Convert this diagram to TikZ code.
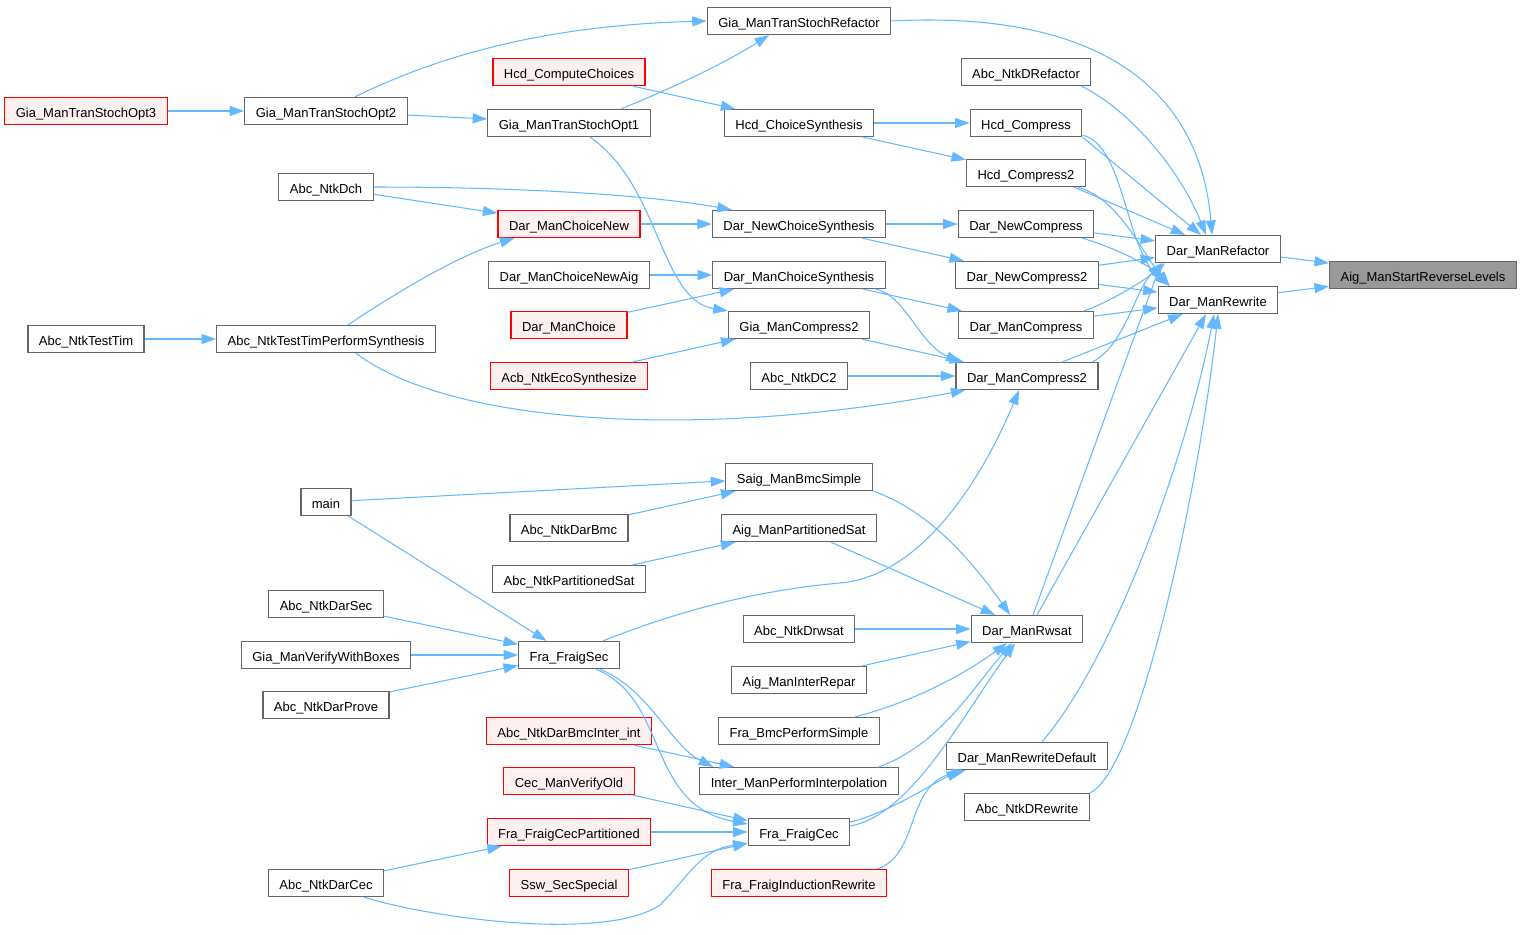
\documentclass[tikz,border=0pt]{standalone}
\usepackage{fontspec}
\setmainfont{Liberation Sans}
\usetikzlibrary{arrows.meta,calc}
\definecolor{callblue}{HTML}{63B8FF}
\definecolor{boxgray}{HTML}{666666}
\definecolor{rootgray}{HTML}{999999}
\definecolor{redfill}{HTML}{FFF0F0}

\begin{document}
\begin{tikzpicture}[x=0.02cm,y=-0.02cm,
		fn/.style={draw=boxgray, line width=0.7pt, fill=white,
			font=\fontsize{7.4}{8}\selectfont, inner xsep=0.22cm, inner ysep=0pt,
			minimum height=0.54cm, text height=8pt, text depth=1pt},
		redfn/.style={fn, draw=red, fill=redfill},
		rootfn/.style={fn, fill=rootgray},
		call/.style={draw=callblue, line width=0.6pt,
			-{Triangle[length=0.29cm,width=0.2cm]}}]
	
	\useasboundingbox (0,0) rectangle (1520,934);
	
	% --- the function and its two direct callers ---
	\node[rootfn] (root) at (1423,275) {Aig\_ManStartReverseLevels};
	\node[fn] (refactor) at (1218,249) {Dar\_ManRefactor};
	\node[fn] (rewrite) at (1218,300) {Dar\_ManRewrite};
	
	% --- column 5 ---
	\node[fn] (drefactor) at (1026,72) {Abc\_NtkDRefactor};
	\node[fn] (hcdcomp) at (1026,123) {Hcd\_Compress};
	\node[fn] (hcdcomp2) at (1026,173) {Hcd\_Compress2};
	\node[fn] (newcomp) at (1026,224) {Dar\_NewCompress};
	\node[fn] (newcomp2) at (1027,275) {Dar\_NewCompress2};
	\node[fn] (mancomp) at (1026,325) {Dar\_ManCompress};
	\node[fn] (mancomp2) at (1027,376) {Dar\_ManCompress2};
	\node[fn] (rwsat) at (1027,629) {Dar\_ManRwsat};
	\node[fn] (rwdefault) at (1027,756) {Dar\_ManRewriteDefault};
	\node[fn] (drewrite) at (1027,807) {Abc\_NtkDRewrite};
	
	% --- column 4 ---
	\node[fn] (tsrefactor) at (799,21) {Gia\_ManTranStochRefactor};
	\node[fn] (hcdchoice) at (799,123) {Hcd\_ChoiceSynthesis};
	\node[fn] (newchoice) at (799,224) {Dar\_NewChoiceSynthesis};
	\node[fn] (manchoice) at (799,275) {Dar\_ManChoiceSynthesis};
	\node[fn] (giacomp2) at (799,325) {Gia\_ManCompress2};
	\node[fn] (dc2) at (799,376) {Abc\_NtkDC2};
	\node[fn] (bmcsimple) at (799,477) {Saig\_ManBmcSimple};
	\node[fn] (partsat) at (799,528) {Aig\_ManPartitionedSat};
	\node[fn] (drwsat) at (799,629) {Abc\_NtkDrwsat};
	\node[fn] (interrepar) at (799,680) {Aig\_ManInterRepar};
	\node[fn] (bmcperform) at (799,731) {Fra\_BmcPerformSimple};
	\node[fn] (interp) at (799,781) {Inter\_ManPerformInterpolation};
	\node[fn] (fraigcec) at (799,832) {Fra\_FraigCec};
	\node[redfn] (indrewrite) at (799,883) {Fra\_FraigInductionRewrite};
	
	% --- column 3 ---
	\node[redfn] (computechoices) at (569,72) {Hcd\_ComputeChoices};
	\node[fn] (opt1) at (569,123) {Gia\_ManTranStochOpt1};
	\node[redfn] (choicenew) at (569,224) {Dar\_ManChoiceNew};
	\node[fn] (choicenewaig) at (569,275) {Dar\_ManChoiceNewAig};
	\node[redfn] (manchoicef) at (569,325) {Dar\_ManChoice};
	\node[redfn] (ecosynth) at (569,376) {Acb\_NtkEcoSynthesize};
	\node[fn] (darbmc) at (569,528) {Abc\_NtkDarBmc};
	\node[fn] (ntkpartsat) at (569,579) {Abc\_NtkPartitionedSat};
	\node[fn] (fraigsec) at (569,655) {Fra\_FraigSec};
	\node[redfn] (bmcinter) at (569,731) {Abc\_NtkDarBmcInter\_int};
	\node[redfn] (verifyold) at (569,781) {Cec\_ManVerifyOld};
	\node[redfn] (cecpart) at (569,832) {Fra\_FraigCecPartitioned};
	\node[redfn] (secspecial) at (569,883) {Ssw\_SecSpecial};
	
	% --- columns 1 and 2 ---
	\node[fn] (opt2) at (326,111) {Gia\_ManTranStochOpt2};
	\node[fn] (dch) at (326,187) {Abc\_NtkDch};
	\node[fn] (testtimsyn) at (326,339) {Abc\_NtkTestTimPerformSynthesis};
	\node[fn] (mainfn) at (326,502) {main};
	\node[fn] (darsec) at (326,604) {Abc\_NtkDarSec};
	\node[fn] (verifyboxes) at (326,655) {Gia\_ManVerifyWithBoxes};
	\node[fn] (darprove) at (326,705) {Abc\_NtkDarProve};
	\node[fn] (darcec) at (326,883) {Abc\_NtkDarCec};
	\node[redfn] (opt3) at (86,111) {Gia\_ManTranStochOpt3};
	\node[fn] (testtim) at (86,339) {Abc\_NtkTestTim};
	
	% --- straight calls ---
	\foreach \a/\b in {refactor/root, rewrite/root, opt3/opt2, opt2/opt1,
		newcomp/refactor, newcomp2/refactor, newcomp2/rewrite, mancomp/rewrite,
		mancomp2/rewrite, hcdchoice/hcdcomp, hcdchoice/hcdcomp2, newchoice/newcomp,
		newchoice/newcomp2, manchoice/mancomp, giacomp2/mancomp2, dc2/mancomp2,
		computechoices/hcdchoice, choicenew/newchoice, choicenewaig/manchoice,
		manchoicef/manchoice, ecosynth/giacomp2, dch/choicenew, testtim/testtimsyn,
		mainfn/bmcsimple, mainfn/fraigsec, darbmc/bmcsimple, ntkpartsat/partsat,
		darsec/fraigsec, verifyboxes/fraigsec, darprove/fraigsec, partsat/rwsat,
		drwsat/rwsat, interrepar/rwsat, bmcinter/interp, verifyold/fraigcec,
		cecpart/fraigcec, secspecial/fraigcec, darcec/cecpart}
	\draw[call] (\a) -- (\b);
	
	% --- calls into Dar_ManRefactor / Dar_ManRewrite ---
	\draw[call] (tsrefactor.east) .. controls (1100,10) and (1200,90) .. ($(refactor.north)+(-6,0)$);
	\draw[call] ($(drefactor.south east)+(-10,0)$) .. controls (1130,110) and (1180,170) .. ($(refactor.north)+(-12,0)$);
	\draw[call] (hcdcomp.south east) -- (refactor);
	\draw[call] ($(hcdcomp.south east)+(0,-2)$) .. controls (1125,145) and (1125,250) .. ($(rewrite.north west)+(12,0)$);
	\draw[call] ($(hcdcomp2.south east)+(-12,0)$) -- (refactor);
	\draw[call] ($(hcdcomp2.south east)+(-8,0)$) .. controls (1120,200) and (1140,250) .. ($(rewrite.north west)+(12,0)$);
	\draw[call] ($(newcomp.south east)+(-12,0)$) .. controls (1115,248) and (1150,265) .. ($(rewrite.north west)+(12,0)$);
	\draw[call] ($(mancomp.north east)+(-10,0)$) .. controls (1110,302) and (1145,280) .. ($(refactor.south west)+(10,0)$);
	\draw[call] ($(mancomp2.north east)+(-6,0)$) .. controls (1125,345) and (1135,290) .. ($(refactor.south west)+(7,0)$);
	\draw[call] ($(rwsat.north)+(6,0)$) -- ($(refactor.south west)+(6,0)$);
	\draw[call] ($(rwsat.north)+(10,0)$) -- ($(rewrite.south)+(-12,0)$);
	\draw[call] ($(rwdefault.north)+(15,0)$) .. controls (1120,650) and (1190,440) .. ($(rewrite.south)+(-4,0)$);
	\draw[call] (drewrite.north east) .. controls (1140,770) and (1200,480) .. (rewrite.south);
	
	% --- upper half ---
	\draw[call] ($(manchoice.south east)+(-10,0)$) .. controls (905,295) and (920,345) .. ($(mancomp2.north west)+(5,0)$);
	\draw[call] ($(testtimsyn.south)+(30,0)$) .. controls (450,425) and (700,440) .. ($(mancomp2.south west)+(10,0)$);
	\draw[call] ($(opt2.north)+(29,0)$) .. controls (450,50) and (560,25) .. (tsrefactor.west);
	\draw[call] ($(opt1.north)+(52,0)$) .. controls (680,85) and (730,60) .. ($(tsrefactor.south)+(-30,0)$);
	\draw[call] ($(opt1.south)+(21,0)$) .. controls (660,185) and (660,300) .. (giacomp2.north west);
	\draw[call] (dch.east) .. controls (520,187) and (650,195) .. ($(newchoice.north west)+(20,0)$);
	\draw[call] ($(testtimsyn.north)+(22,0)$) .. controls (400,290) and (460,255) .. ($(choicenew.south west)+(17,0)$);
	
	% --- lower half ---
	\draw[call] ($(fraigsec.north)+(34,0)$) .. controls (680,610) and (760,590) .. (840,583)
	.. controls (930,575) and (990,460) .. ($(mancomp2.south)+(-8,0)$);
	\draw[call] (bmcsimple.south east) .. controls (930,510) and (975,565) .. ($(rwsat.north)+(-17,0)$);
	\draw[call] ($(bmcperform.north east)+(-25,0)$) .. controls (920,700) and (970,670) .. ($(rwsat.south)+(-20,0)$);
	\draw[call] ($(interp.north east)+(-20,0)$) .. controls (940,745) and (975,685) .. ($(rwsat.south)+(-15,0)$);
	\draw[call] ($(fraigcec.east)+(0,-6)$) .. controls (910,815) and (960,720) .. ($(rwsat.south)+(-12,0)$);
	\draw[call] ($(fraigcec.east)+(0,-10)$) .. controls (890,812) and (930,785) .. ($(rwdefault.south west)+(15,0)$);
	\draw[call] ($(indrewrite.north east)+(-10,0)$) .. controls (920,855) and (905,785) .. ($(rwdefault.south west)+(20,0)$);
	\draw[call] ($(fraigsec.south)+(31,0)$) .. controls (650,690) and (670,745) .. ($(interp.north west)+(14,0)$);
	\draw[call] ($(fraigsec.south)+(27,0)$) .. controls (670,700) and (645,805) .. ($(fraigcec.west)+(0,-8)$);
	\draw[call] ($(darcec.south)+(38,0)$) .. controls (430,918) and (605,942) .. (660,905)
	.. controls (690,875) and (700,850) .. ($(fraigcec.south west)+(0,-3)$);
	
\end{tikzpicture}
\end{document}
